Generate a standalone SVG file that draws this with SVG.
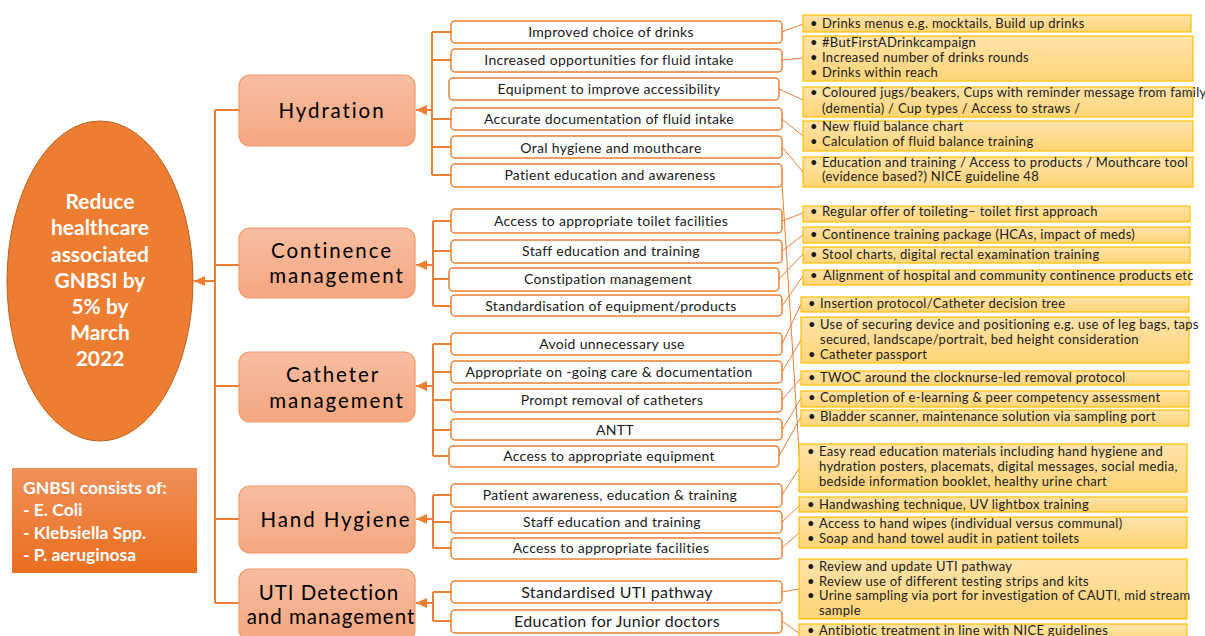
<svg xmlns="http://www.w3.org/2000/svg" width="1205" height="636" viewBox="0 0 1205 636">
<defs>
<linearGradient id="gCat" x1="0" y1="0" x2="0" y2="1"><stop offset="0" stop-color="#F8BEA2"/><stop offset="1" stop-color="#F4A680"/></linearGradient>
<linearGradient id="gNote" x1="0" y1="0" x2="0" y2="1"><stop offset="0" stop-color="#FFE3AA"/><stop offset="1" stop-color="#FFD476"/></linearGradient>
<linearGradient id="gLeg" x1="0" y1="0" x2="0" y2="1"><stop offset="0" stop-color="#F0905A"/><stop offset="1" stop-color="#EA6E1E"/></linearGradient>
<marker id="arr" markerUnits="userSpaceOnUse" markerWidth="12" markerHeight="10" refX="11" refY="5" orient="auto"><path d="M0,0 L11,5 L0,10 z" fill="#ED7D31"/></marker>
<style>
.cat{fill:url(#gCat);stroke:#F29A66;stroke-width:1.2}
.ct{font-family:Lato,"Liberation Sans",sans-serif;font-size:20.5px;fill:#000;text-anchor:middle;letter-spacing:1.9px}
.sub{fill:#fff;stroke:#ED7D31;stroke-width:1.5}
.st{font-family:Lato,"Liberation Sans",sans-serif;font-size:14px;fill:#1a1a1a;text-anchor:middle;letter-spacing:0.3px}
.st2{font-family:Lato,"Liberation Sans",sans-serif;font-size:16px;fill:#1a1a1a;text-anchor:middle;letter-spacing:0.3px}
.note{fill:url(#gNote);stroke:#FFC000;stroke-width:1.2}
.nt{font-family:Lato,"Liberation Sans",sans-serif;font-size:13px;fill:#1a1a1a;letter-spacing:0.3px}
.tr{fill:none;stroke:#ED7D31;stroke-width:2}
.ln{fill:none;stroke:#ED7D31;stroke-width:1}
.wt{font-family:Lato,"Liberation Sans",sans-serif;font-weight:bold;fill:#fff}
</style>
</defs>
<rect width="1205" height="636" fill="#fff"/>

<g id="connectors">
<path class="tr" d="M215 110 V603 M215 110 H239 M215 265 H239 M215 386 H239 M215 519 H239 M215 603 H239"/>
<path class="tr" d="M215 281 H194" marker-end="url(#arr)"/>
<path class="tr" d="M432 32 V175 M432 32 H451 M432 60 H451 M432 119 H451 M432 147 H451 M432 175 H451"/>
<path class="tr" d="M432 110 H416" marker-end="url(#arr)"/>
<path class="tr" d="M433 221 V306 M433 221 H451 M433 251 H451 M433 279 H449 M433 306 H451"/>
<path class="tr" d="M433 265 H416" marker-end="url(#arr)"/>
<path class="tr" d="M433 344 V456 M433 344 H451 M433 372 H451 M433 400 H451 M433 430 H451 M433 456 H449"/>
<path class="tr" d="M433 386 H416" marker-end="url(#arr)"/>
<path class="tr" d="M433 495 V548 M433 495 H451 M433 522 H451 M433 548 H451"/>
<path class="tr" d="M433 519 H416" marker-end="url(#arr)"/>
<path class="tr" d="M433 592 V621 M433 592 H451 M433 621 H451"/>
<path class="tr" d="M433 603 H416" marker-end="url(#arr)"/>
<path class="ln" d="M782 32 L803 24 M782 60 L803 58 M779 89 L803 100 M782 119 L803 136 M782 147 L803 172 M782 183 L800 467 M782 221 L803 213 M782 251 L803 235 M779 279 L803 254 M782 306 L803 276 M782 344 L801 304 M782 372 L801 340 M782 400 L801 378 M782 430 L801 398 M779 456 L801 417 M782 495 L800 467 M782 522 L800 505 M782 548 L800 532 M782 592 L799 589 M782 621 L800 634"/>
</g>

<g id="goal">
<ellipse cx="100" cy="281" rx="93" ry="160" fill="#ED7D31" stroke="#B9621F" stroke-width="1"/>
<text class="wt" font-size="21" text-anchor="middle"><tspan x="100" y="209">Reduce</tspan><tspan x="100" y="235">healthcare</tspan><tspan x="100" y="262">associated</tspan><tspan x="100" y="288">GNBSI by</tspan><tspan x="100" y="314">5% by</tspan><tspan x="100" y="340">March</tspan><tspan x="100" y="366">2022</tspan></text>
</g>

<g id="legend">
<rect x="12" y="468" width="185" height="105" fill="url(#gLeg)"/>
<text class="wt" font-size="17.5"><tspan x="23" y="494">GNBSI consists of:</tspan><tspan x="23" y="516">- E. Coli</tspan><tspan x="23" y="539">- Klebsiella Spp.</tspan><tspan x="23" y="561">- P. aeruginosa</tspan></text>
</g>

<g id="cat-hydration"><rect class="cat" x="239" y="75" width="176" height="71" rx="11"/><text class="ct" x="332" y="118">Hydration</text></g>
<g id="cat-continence"><rect class="cat" x="239" y="228" width="176" height="70" rx="11"/><text class="ct"><tspan x="332" y="258">Continence</tspan><tspan x="337" y="283">management</tspan></text></g>
<g id="cat-catheter"><rect class="cat" x="239" y="352" width="176" height="70" rx="11"/><text class="ct"><tspan x="333" y="382">Catheter</tspan><tspan x="337" y="408">management</tspan></text></g>
<g id="cat-hand"><rect class="cat" x="239" y="486" width="176" height="67" rx="11"/><text class="ct" x="336" y="527">Hand Hygiene</text></g>
<g id="cat-uti"><rect class="cat" x="239" y="569" width="176" height="72" rx="11"/><text class="ct" style="letter-spacing:1px"><tspan x="329" y="600">UTI Detection</tspan><tspan x="331" y="624">and management</tspan></text></g>

<g id="sub-h1"><rect class="sub" x="451" y="21" width="331" height="22" rx="4"/><text class="st" x="611" y="37">Improved choice of drinks</text></g>
<g id="sub-h2"><rect class="sub" x="451" y="49" width="331" height="23" rx="4"/><text class="st" x="609" y="65">Increased opportunities for fluid intake</text></g>
<g id="sub-h3"><rect class="sub" x="449" y="78" width="330" height="22" rx="4"/><text class="st" x="609" y="94">Equipment to improve accessibility</text></g>
<g id="sub-h4"><rect class="sub" x="451" y="108" width="331" height="22" rx="4"/><text class="st" x="609" y="124">Accurate documentation of fluid intake</text></g>
<g id="sub-h5"><rect class="sub" x="451" y="136" width="331" height="22" rx="4"/><text class="st" x="611" y="153">Oral hygiene and mouthcare</text></g>
<g id="sub-h6"><rect class="sub" x="451" y="164" width="331" height="23" rx="4"/><text class="st" x="610" y="180">Patient education and awareness</text></g>

<g id="sub-c1"><rect class="sub" x="451" y="209" width="331" height="24" rx="4"/><text class="st" x="611" y="226">Access to appropriate toilet facilities</text></g>
<g id="sub-c2"><rect class="sub" x="451" y="240" width="331" height="23" rx="4"/><text class="st" x="611" y="256">Staff education and training</text></g>
<g id="sub-c3"><rect class="sub" x="449" y="268" width="330" height="23" rx="4"/><text class="st" x="608" y="284">Constipation management</text></g>
<g id="sub-c4"><rect class="sub" x="451" y="295" width="331" height="21" rx="4"/><text class="st" x="611" y="311">Standardisation of equipment/products</text></g>

<g id="sub-k1"><rect class="sub" x="451" y="333" width="331" height="22" rx="4"/><text class="st" x="612" y="349">Avoid unnecessary use</text></g>
<g id="sub-k2"><rect class="sub" x="451" y="361" width="331" height="22" rx="4"/><text class="st" x="609" y="377">Appropriate on -going care &amp; documentation</text></g>
<g id="sub-k3"><rect class="sub" x="451" y="389" width="331" height="23" rx="4"/><text class="st" x="612" y="405">Prompt removal of catheters</text></g>
<g id="sub-k4"><rect class="sub" x="451" y="419" width="331" height="21" rx="4"/><text class="st" x="615" y="435">ANTT</text></g>
<g id="sub-k5"><rect class="sub" x="449" y="446" width="330" height="21" rx="4"/><text class="st" x="609" y="461">Access to appropriate equipment</text></g>

<g id="sub-p1"><rect class="sub" x="451" y="484" width="331" height="23" rx="4"/><text class="st" x="610" y="500">Patient awareness, education &amp; training</text></g>
<g id="sub-p2"><rect class="sub" x="451" y="511" width="331" height="22" rx="4"/><text class="st" x="612" y="527">Staff education and training</text></g>
<g id="sub-p3"><rect class="sub" x="451" y="538" width="331" height="21" rx="4"/><text class="st" x="611" y="553">Access to appropriate facilities</text></g>

<g id="sub-u1"><rect class="sub" x="451" y="581" width="331" height="22" rx="4" stroke-width="2.5"/><text class="st2" x="617" y="598">Standardised UTI pathway</text></g>
<g id="sub-u2"><rect class="sub" x="451" y="610" width="331" height="23" rx="4"/><text class="st2" x="617" y="627">Education for Junior doctors</text></g>

<g id="note-1"><rect class="note" x="803" y="15" width="388" height="17"/><text class="nt"><tspan x="810" y="28">•</tspan><tspan x="822" y="28">Drinks menus e.g. mocktails, Build up drinks</tspan></text></g>
<g id="note-2"><rect class="note" x="803" y="36" width="390" height="45"/><text class="nt"><tspan x="810" y="47">•</tspan><tspan x="822" y="47">#ButFirstADrinkcampaign</tspan><tspan x="810" y="62">•</tspan><tspan x="822" y="62">Increased number of drinks rounds</tspan><tspan x="810" y="77">•</tspan><tspan x="822" y="77">Drinks within reach</tspan></text></g>
<g id="note-3"><rect class="note" x="803" y="87" width="390" height="30"/><text class="nt"><tspan x="810" y="97">•</tspan><tspan x="822" y="97">Coloured jugs/beakers, Cups with reminder message from family</tspan><tspan x="822" y="113">(dementia) / Cup types / Access to straws /</tspan></text></g>
<g id="note-4"><rect class="note" x="803" y="121" width="390" height="30"/><text class="nt"><tspan x="810" y="131">•</tspan><tspan x="822" y="131">New fluid balance chart</tspan><tspan x="810" y="146">•</tspan><tspan x="822" y="146">Calculation of fluid balance training</tspan></text></g>
<g id="note-5"><rect class="note" x="803" y="157" width="390" height="30"/><text class="nt"><tspan x="810" y="167">•</tspan><tspan x="822" y="167">Education and training / Access to products / Mouthcare tool</tspan><tspan x="822" y="181">(evidence based?) NICE guideline 48</tspan></text></g>

<g id="note-6"><rect class="note" x="803" y="206" width="387" height="16"/><text class="nt"><tspan x="810" y="216">•</tspan><tspan x="822" y="216">Regular offer of toileting– toilet first approach</tspan></text></g>
<g id="note-7"><rect class="note" x="803" y="227" width="387" height="16"/><text class="nt"><tspan x="810" y="239">•</tspan><tspan x="822" y="239">Continence training package (HCAs, impact of meds)</tspan></text></g>
<g id="note-8"><rect class="note" x="803" y="247" width="387" height="16"/><text class="nt"><tspan x="810" y="259">•</tspan><tspan x="822" y="259">Stool charts, digital rectal examination training</tspan></text></g>
<g id="note-9"><rect class="note" x="803" y="270" width="387" height="15"/><text class="nt"><tspan x="810" y="280">•</tspan><tspan x="823" y="280">Alignment of hospital and community continence products etc</tspan></text></g>

<g id="note-10"><rect class="note" x="801" y="297" width="388" height="15"/><text class="nt"><tspan x="808" y="308">•</tspan><tspan x="820" y="308">Insertion protocol/Catheter decision tree</tspan></text></g>
<g id="note-11"><rect class="note" x="801" y="317" width="388" height="46"/><text class="nt"><tspan x="808" y="329">•</tspan><tspan x="820" y="329">Use of securing device and positioning e.g. use of leg bags, taps</tspan><tspan x="820" y="344">secured, landscape/portrait, bed height consideration</tspan><tspan x="808" y="359">•</tspan><tspan x="820" y="359">Catheter passport</tspan></text></g>
<g id="note-12"><rect class="note" x="801" y="371" width="388" height="14"/><text class="nt"><tspan x="808" y="382">•</tspan><tspan x="820" y="382">TWOC around the clocknurse-led removal protocol</tspan></text></g>
<g id="note-13"><rect class="note" x="801" y="391" width="388" height="16"/><text class="nt"><tspan x="808" y="402">•</tspan><tspan x="820" y="402">Completion of e-learning &amp; peer competency assessment</tspan></text></g>
<g id="note-14"><rect class="note" x="801" y="410" width="388" height="16"/><text class="nt"><tspan x="808" y="421">•</tspan><tspan x="820" y="421">Bladder scanner, maintenance solution via sampling port</tspan></text></g>

<g id="note-15"><rect class="note" x="799" y="444" width="388" height="48"/><text class="nt"><tspan x="807" y="456">•</tspan><tspan x="819" y="456">Easy read education materials including hand hygiene and</tspan><tspan x="819" y="471">hydration posters, placemats, digital messages, social media,</tspan><tspan x="819" y="486">bedside information booklet, healthy urine chart</tspan></text></g>
<g id="note-16"><rect class="note" x="799" y="497" width="388" height="15"/><text class="nt"><tspan x="807" y="509">•</tspan><tspan x="819" y="509">Handwashing technique, UV lightbox training</tspan></text></g>
<g id="note-17"><rect class="note" x="799" y="517" width="388" height="31"/><text class="nt"><tspan x="807" y="528">•</tspan><tspan x="819" y="528">Access to hand wipes (individual versus communal)</tspan><tspan x="807" y="543">•</tspan><tspan x="819" y="543">Soap and hand towel audit in patient toilets</tspan></text></g>
<g id="note-18"><rect class="note" x="799" y="559" width="388" height="60"/><text class="nt"><tspan x="807" y="571">•</tspan><tspan x="819" y="571">Review and update UTI pathway</tspan><tspan x="807" y="586">•</tspan><tspan x="819" y="586">Review use of different testing strips and kits</tspan><tspan x="807" y="600">•</tspan><tspan x="819" y="600">Urine sampling via port for investigation of CAUTI, mid stream</tspan><tspan x="819" y="615">sample</tspan></text></g>
<g id="note-19"><rect class="note" x="799" y="624" width="388" height="20"/><text class="nt"><tspan x="807" y="635">•</tspan><tspan x="819" y="635">Antibiotic treatment in line with NICE guidelines</tspan></text></g>
</svg>
